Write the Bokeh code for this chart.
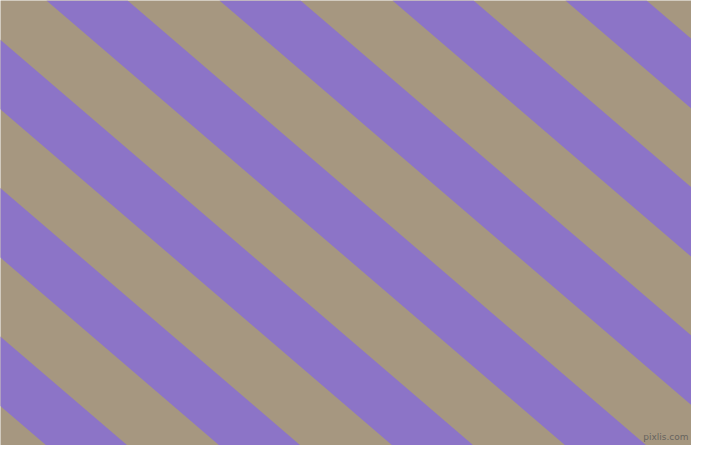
from bokeh.plotting import figure
from bokeh.models import Range1d, Label
from bokeh.embed import file_html
from bokeh.resources import INLINE

# Pattern geometry (pixel units of the 707x461 image)
W, H = 707, 461
stripe_starts = [-484, -307, -130, 47, 224, 401, 578]  # x on top edge where each purple band begins
stripe_width = 83                                      # width of a purple band along the top edge
shift = 531                                            # horizontal run of a band over the full height
tan_color = "#A69780"
purple_color = "#8C74C7"
watermark = "pixlis.com"

p = figure(width=691, height=445, x_range=Range1d(0, W), y_range=Range1d(H, 0),
           output_backend="svg", toolbar_location=None, min_border=0,
           x_axis_type=None, y_axis_type=None)
p.grid.visible = False
p.outline_line_color = None
p.background_fill_color = tan_color
p.border_fill_color = tan_color

xs = [[s, s + stripe_width, s + stripe_width + shift, s + shift] for s in stripe_starts]
ys = [[0, 0, H, H] for _ in stripe_starts]
p.patches(xs, ys, fill_color=purple_color, line_color=None)

p.add_layout(Label(x=704, y=457, text=watermark, text_align="right", text_baseline="bottom",
                   text_font="DejaVu Sans", text_font_size="9px", text_color="#555555",
                   text_alpha=0.8))

open("out.html", "w").write(file_html(p, INLINE))
